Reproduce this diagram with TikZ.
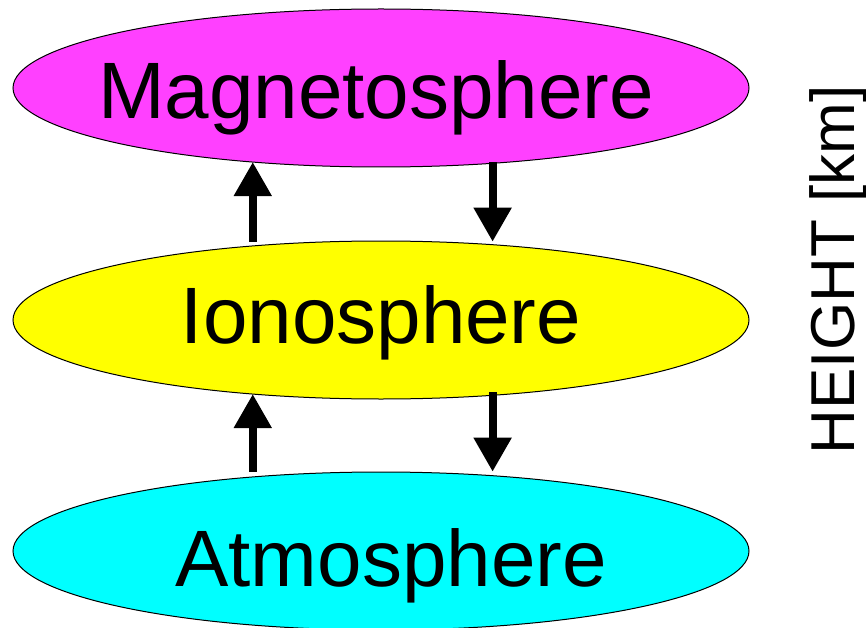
\documentclass[tikz,border=0pt]{standalone}
\usepackage{fontspec}
\setmainfont{Liberation Sans}
\usetikzlibrary{shapes.geometric,arrows.meta}
\definecolor{magfill}{RGB}{255,64,255}
\definecolor{ionfill}{RGB}{255,255,0}
\definecolor{atmfill}{RGB}{0,255,255}
\tikzset{
  sphere/.style={ellipse, draw=black, line width=1pt, inner sep=0pt, outer sep=0pt,
    minimum width=736pt, minimum height=158pt},
  bigtext/.style={anchor=base, inner sep=0pt, font=\fontsize{80}{96}\selectfont},
  axistext/.style={anchor=base, inner sep=0pt, rotate=90, font=\fontsize{62}{74}\selectfont},
  flow/.style={line width=8pt, -{Triangle[length=34pt,width=36pt]}}
}
\begin{document}
\begin{tikzpicture}[x=1pt,y=-1pt]
\useasboundingbox[fill=white] (0,0) rectangle (866,628);
\node[sphere, fill=magfill] (mag) at (381,88) {};
\node[sphere, fill=ionfill] (ion) at (381,320) {};
\node[sphere, fill=atmfill] (atm) at (381,551) {};
\node[bigtext] (magtxt) at (376,119) {Magnetosphere};
\node[bigtext] (iontxt) at (381,343) {Ionosphere};
\node[bigtext] (atmtxt) at (391,586) {Atmosphere};
\node[axistext] (height) at (854,270) {HEIGHT [km]};
\draw[flow, shorten <=4pt] (ion.150) -- (mag.210);
\draw[flow, shorten <=-1pt, shorten >=3pt] (mag.326) -- (ion.34);
\draw[flow, shorten <=5pt] (atm.150) -- (ion.210);
\draw[flow, shorten <=-3pt, shorten >=4pt] (ion.326) -- (atm.34);
\end{tikzpicture}
\end{document}
